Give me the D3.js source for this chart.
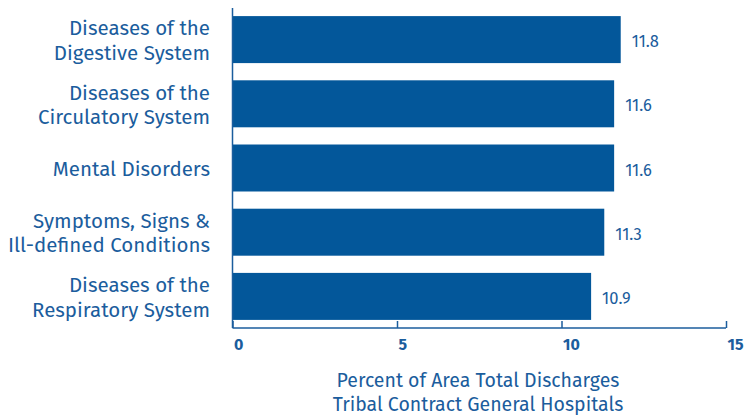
<!DOCTYPE html>
<html><head><meta charset="utf-8">
<script src="https://cdn.jsdelivr.net/npm/d3@7"></script>
<style>body{margin:0;background:#fff}</style>
</head><body>
<svg id="c" width="747" height="416"></svg>
<script>
const categories = ["Diseases of the|Digestive System","Diseases of the|Circulatory System","Mental Disorders","Symptoms, Signs &|Ill-defined Conditions","Diseases of the|Respiratory System"];
const values = [11.8, 11.6, 11.6, 11.3, 10.9];
const ticks = [0, 5, 10, 15];
const axisTitle = ["Percent of Area Total Discharges","Tribal Contract General Hospitals"];

const barColor = "#03579a", textColor = "#1b5d9d", font = "'Fira Sans','Noto Sans',sans-serif";
const svg = d3.select("#c");
const x = d3.scaleLinear().domain([0,15]).range([232.5,726]);
const y = d3.scaleBand().domain(categories).range([7.5,328.5]).paddingInner(0.268).paddingOuter(0.134);

svg.selectAll("rect.bar").data(values).join("rect")
  .attr("x", x(0)).attr("y",(d,i)=>y(categories[i]))
  .attr("width", d=>x(d)-x(0)).attr("height", y.bandwidth()).attr("fill", barColor);

svg.selectAll("text.val").data(values).join("text")
  .attr("x", d=>x(d)+11).attr("y",(d,i)=>y(categories[i])+y.bandwidth()/2+7.5)
  .attr("fill", textColor).attr("font-family", font).attr("font-size", 16.5).text(d=>d.toFixed(1));

// category labels
categories.forEach(c=>{
  const lines = c.split("|");
  const cy = y(c)+y.bandwidth()/2;
  const t = svg.append("text").attr("text-anchor","end").attr("fill",textColor)
    .attr("font-family",font).attr("font-size",20.5);
  lines.forEach((l,j)=>{
    t.append("tspan").attr("x",210).attr("y", cy + 8 + (j-(lines.length-1)/2)*24.5).text(l);
  });
});

// axes
const g = svg.append("g").attr("transform","translate(0,328)");
const ax = d3.axisBottom(x).tickValues(ticks).tickSize(-7).tickFormat(d3.format("d"));
g.call(ax);
g.select(".domain").attr("stroke",textColor).attr("stroke-width",1.5).attr("d",`M${x(0)},0H${x(15)}`);
g.selectAll(".tick line").attr("stroke",textColor).attr("stroke-width",1.5);
g.selectAll(".tick text").attr("text-anchor","start").attr("dx",0).attr("dy",0).attr("x",1).attr("y",22)
  .attr("fill",textColor).attr("font-family",font).attr("font-size",16).attr("font-weight","bold");
svg.append("line").attr("x1",x(0)).attr("x2",x(0)).attr("y1",8).attr("y2",328)
  .attr("stroke",textColor).attr("stroke-width",1.5);

svg.append("text").attr("text-anchor","middle").attr("fill",textColor).attr("font-family",font).attr("font-size",19.5)
  .selectAll("tspan").data(axisTitle).join("tspan").attr("x",478).attr("y",(d,i)=>387+i*23.5).text(d=>d);
</script>
</body></html>
